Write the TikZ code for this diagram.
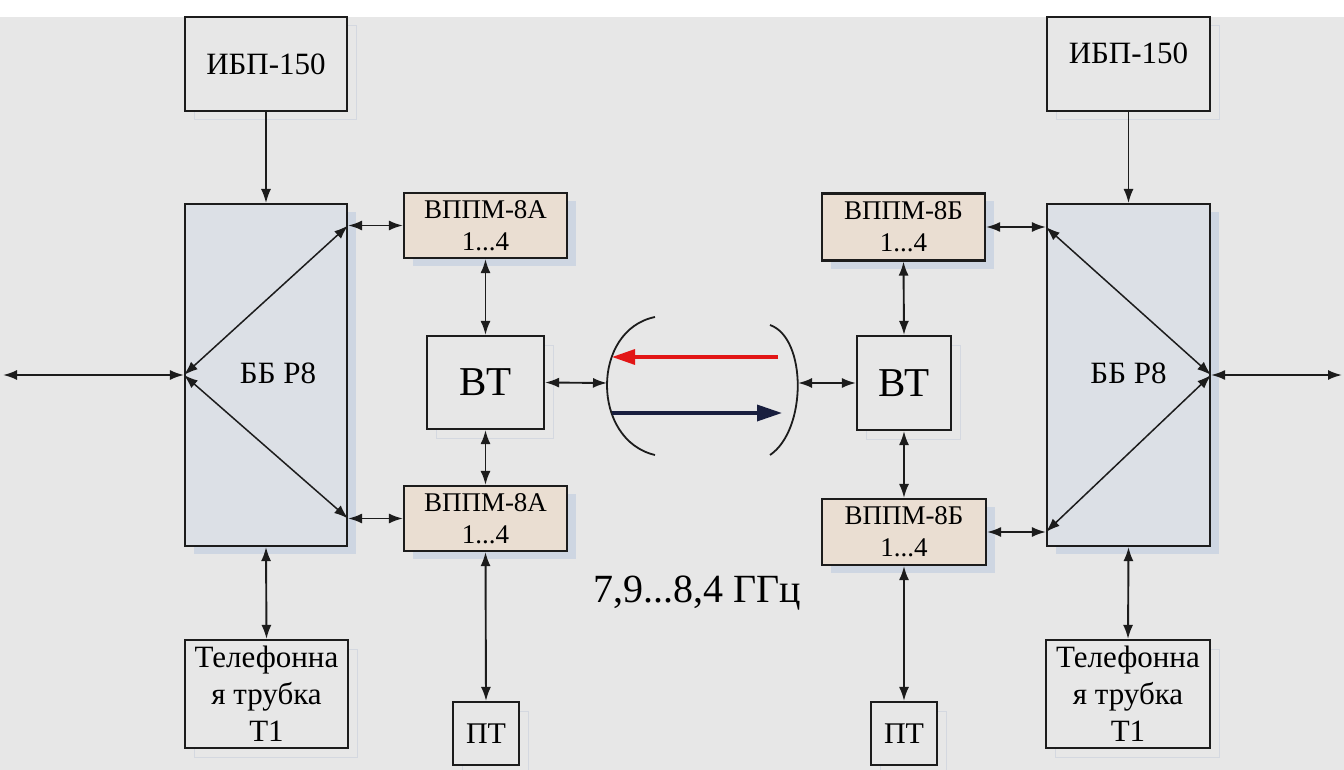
\documentclass[tikz,border=0pt]{standalone}
\usepackage{fontspec}
\IfFontExistsTF{LiberationSerif-Regular.ttf}
  {\setmainfont{LiberationSerif-Regular.ttf}[BoldFont=LiberationSerif-Bold.ttf]
   \newfontfamily\labelfont{LiberationSerif-Regular.ttf}}
  {\setmainfont{Liberation Serif}
   \newfontfamily\labelfont{Liberation Serif}}
\usetikzlibrary{arrows.meta,shadows}
\definecolor{bg}{RGB}{231,231,231}
\definecolor{bbfill}{RGB}{220,224,230}
\definecolor{vpfill}{RGB}{234,222,210}
\definecolor{ghost}{RGB}{206,214,226}
\definecolor{ghostline}{RGB}{212,216,224}
\definecolor{ink}{RGB}{28,28,28}
\definecolor{sigred}{RGB}{226,22,22}
\definecolor{signavy}{RGB}{24,30,62}

\tikzset{
  >={Latex[length=14pt,width=10pt]},
  boxbase/.style={draw=ink, line width=2.1pt, inner sep=0pt, align=center,
    font=\labelfont\fontsize{31}{37}\selectfont},
  plainbox/.style={boxbase, fill=bg,
    drop shadow={shadow xshift=9pt, shadow yshift=-9pt, fill=none,
      draw=ghostline, line width=1pt, opacity=1}},
  bbbox/.style={boxbase, fill=bbfill,
    drop shadow={shadow xshift=9pt, shadow yshift=-8pt, fill=ghost, opacity=1}},
  vpbox/.style={boxbase, fill=vpfill, font=\labelfont\fontsize{27}{32}\selectfont,
    drop shadow={shadow xshift=9pt, shadow yshift=-8pt, fill=ghost, opacity=1}},
  lbl/.style={font=\labelfont\fontsize{31}{37}\selectfont, inner sep=0pt},
  conn/.style={draw=ink, line width=1.9pt},
  feed/.style={draw=ink, line width=1.5pt},
  dish/.style={draw=ink, line width=1.8pt},
}

\begin{document}
\begin{tikzpicture}[x=1pt,y=-1pt]
\useasboundingbox (0,0) rectangle (1344,770);
\fill[white] (0,0) rectangle (1344,770);
\fill[bg] (0,17) rectangle (1344,770);

% ---------- left station ----------
\node[plainbox, minimum width=162pt, minimum height=94pt] (ibpL) at (266,64) {ИБП-150};
\node[bbbox, minimum width=162pt, minimum height=342pt,
      label={[lbl, xshift=12pt, yshift=2pt]center:ББ Р8}] (bbL) at (266,375) {};
\node[vpbox, minimum width=163pt, minimum height=65pt] (vpA1) at (485.5,225.5) {ВППМ-8А\\1...4};
\node[vpbox, minimum width=163pt, minimum height=65pt] (vpA2) at (485.5,518.5) {ВППМ-8А\\1...4};
\node[plainbox, minimum width=117pt, minimum height=93pt, font=\labelfont\fontsize{41}{45}\selectfont] (btL) at (485.5,382.5) {ВТ};
\node[plainbox, minimum width=66pt, minimum height=63pt, font=\labelfont\fontsize{30}{34}\selectfont] (ptL) at (486,733.5) {ПТ};
\node[plainbox, minimum width=163pt, minimum height=108pt] (telL) at (266.5,694) {Телефонна\\я трубка\\Т1};

% ---------- right station ----------
\node[plainbox, minimum width=163pt, minimum height=94pt,
      label={[lbl, yshift=11pt]center:ИБП-150}] (ibpR) at (1128.5,64) {};
\node[bbbox, minimum width=163pt, minimum height=342pt,
      label={[lbl, yshift=2pt]center:ББ Р8}] (bbR) at (1128.5,375) {};
\node[vpbox, minimum width=163pt, minimum height=67pt] (vpB1) at (903.5,227) {ВППМ-8Б\\1...4};
\node[vpbox, minimum width=164pt, minimum height=66pt] (vpB2) at (904,532) {ВППМ-8Б\\1...4};
\node[plainbox, minimum width=94pt, minimum height=94pt, font=\labelfont\fontsize{41}{45}\selectfont] (btR) at (904,383) {ВТ};
\node[plainbox, minimum width=66pt, minimum height=63pt, font=\labelfont\fontsize{30}{34}\selectfont] (ptR) at (904,733.5) {ПТ};
\node[plainbox, minimum width=164pt, minimum height=108pt] (telR) at (1128,694) {Телефонна\\я трубка\\Т1};

% ---------- frequency band ----------
\node[inner sep=0pt, font=\labelfont\fontsize{40}{44}\selectfont] (freq) at (697,593) {7,9...8,4 ГГц};

% ---------- connection points ----------
\coordinate (outL) at (3,375);
\coordinate (outR) at (1342,375);
\coordinate (bbLa) at (bbL.east |- vpA1.west);
\coordinate (bbLb) at (bbL.east |- vpA2.west);
\coordinate (bbRa) at (bbR.west |- vpB1.east);
\coordinate (bbRb) at (bbR.west |- vpB2.east);
\coordinate (antL) at (607,383);
\coordinate (antR) at (798,383);

% ---------- left links ----------
\draw[feed, ->] (ibpL.south) -- (bbL.north);
\draw[conn, <->] (outL) -- (bbL.west);
\draw[feed, <->] (bbL.west) -- (bbLa);
\draw[feed, <->] (bbL.west) -- (bbLb);
\draw[conn, <->] (bbLa) -- (vpA1.west);
\draw[conn, <->] (bbLb) -- (vpA2.west);
\draw[conn, <->] (vpA1.south) -- (btL.north);
\draw[conn, <->] (btL.south) -- (vpA2.north);
\draw[conn, <->] (vpA2.south) -- (ptL.north);
\draw[conn, <->] (bbL.south) -- (telL.north);
\draw[conn, <->] (btL.east) -- (antL);

% ---------- right links ----------
\draw[feed, ->] (ibpR.south) -- (bbR.north);
\draw[conn, <->] (bbR.east) -- (outR);
\draw[feed, <->] (bbRa) -- (bbR.east);
\draw[feed, <->] (bbRb) -- (bbR.east);
\draw[conn, <->] (vpB1.east) -- (bbRa);
\draw[conn, <->] (vpB2.east) -- (bbRb);
\draw[conn, <->] (vpB1.south) -- (btR.north);
\draw[conn, <->] (btR.south) -- (vpB2.north);
\draw[conn, <->] (vpB2.south) -- (ptR.north);
\draw[conn, <->] (bbR.south) -- (telR.north);
\draw[conn, <->] (antR) -- (btR.west);

% ---------- antennas and radio path ----------
\draw[dish] (655,317) .. controls (591,330) and (591,440) .. (655,455);
\draw[dish] (770,325) .. controls (807,338) and (807,430) .. (770,455);
\coordinate (redS) at (778,357);
\coordinate (redE) at (612,357);
\coordinate (navS) at (612,413);
\coordinate (navE) at (782,413);
\draw[sigred, line width=3.2pt, -{Triangle[length=23pt,width=15pt]}] (redS) -- (redE);
\draw[signavy, line width=3.4pt, -{Triangle[length=25pt,width=16pt]}] (navS) -- (navE);
\end{tikzpicture}
\end{document}
